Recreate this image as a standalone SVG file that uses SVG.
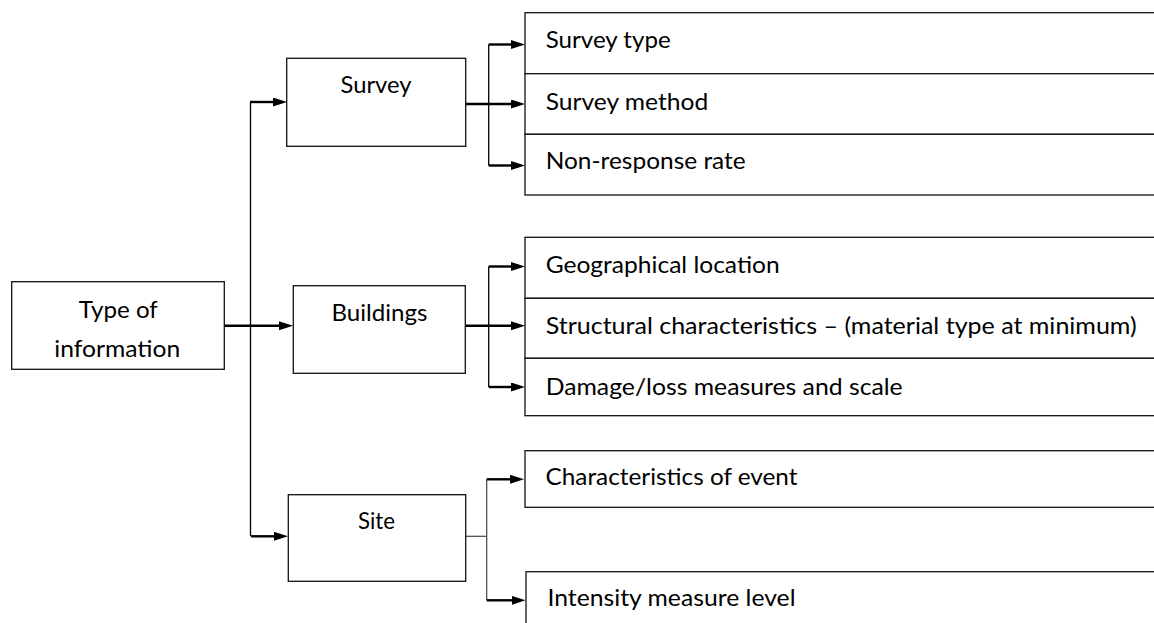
<svg xmlns="http://www.w3.org/2000/svg" width="1154" height="623" viewBox="0 0 1154 623">
  <style>
    .box { fill: #ffffff; stroke: #111111; stroke-width: 1.3; }
    .lbl { font-family: Lato, "Open Sans", "Liberation Sans", sans-serif; font-size: 23px; fill: #000000; }
    .mid { text-anchor: middle; }
    .thin { fill: none; stroke: #000000; stroke-width: 1.3; }
    .gray { fill: none; stroke: #444444; stroke-width: 1.2; }
    .arrow { fill: none; stroke: #000000; stroke-width: 2.4; marker-end: url(#head); }
  </style>
  <defs>
    <marker id="head" markerUnits="userSpaceOnUse" markerWidth="15" markerHeight="10" refX="2" refY="4.5" orient="auto">
      <path d="M0,0 L14,4.5 L0,9 Z" fill="#000000"/>
    </marker>
  </defs>

  <!-- connectors -->
  <g id="connectors">
    <!-- trunk from the root box -->
    <path class="thin" d="M250.5,102 V536.3"/>
    <path class="arrow" d="M250,102 H275"/>
    <path class="arrow" d="M251,536.3 H276"/>
    <path class="arrow" d="M224.5,325.7 H281"/>
    <!-- survey branch -->
    <path class="arrow" d="M466,104 H513"/>
    <path class="thin" d="M488.7,44.5 V165.5"/>
    <path class="arrow" d="M488.7,44.5 H513"/>
    <path class="arrow" d="M488.7,165.5 H513"/>
    <!-- buildings branch -->
    <path class="arrow" d="M466,325.7 H513"/>
    <path class="thin" d="M488.7,266.5 V387"/>
    <path class="arrow" d="M488.7,266.5 H513"/>
    <path class="arrow" d="M488.7,387 H513"/>
    <!-- site branch -->
    <path class="gray" d="M466,536.3 H486.7"/>
    <path class="gray" d="M486.7,479.3 V600.3"/>
    <path class="arrow" d="M486.7,479.3 H512"/>
    <path class="arrow" d="M486.7,600.3 H513.5"/>
  </g>

  <!-- root -->
  <g id="type-of-information">
    <rect class="box" x="11.7" y="281.7" width="212.6" height="87.6"/>
    <text class="lbl mid" x="118.3" y="318" textLength="79" lengthAdjust="spacingAndGlyphs">Type of</text>
    <text class="lbl mid" x="117.3" y="357" textLength="126" lengthAdjust="spacingAndGlyphs">information</text>
  </g>

  <!-- categories -->
  <g id="survey">
    <rect class="box" x="286.7" y="58.3" width="179" height="88"/>
    <text class="lbl mid" x="376" y="92.5" textLength="71" lengthAdjust="spacingAndGlyphs">Survey</text>
  </g>
  <g id="buildings">
    <rect class="box" x="293.3" y="285.7" width="172" height="87.6"/>
    <text class="lbl mid" x="379.5" y="320.7" textLength="96" lengthAdjust="spacingAndGlyphs">Buildings</text>
  </g>
  <g id="site">
    <rect class="box" x="288.3" y="494.7" width="177.4" height="86.6"/>
    <text class="lbl mid" x="376.5" y="529" textLength="37" lengthAdjust="spacingAndGlyphs">Site</text>
  </g>

  <!-- survey items -->
  <g id="survey-type">
    <rect class="box" x="525" y="12.7" width="660" height="61"/>
    <text class="lbl" x="545.7" y="48.3" textLength="125" lengthAdjust="spacingAndGlyphs">Survey type</text>
  </g>
  <g id="survey-method">
    <rect class="box" x="525" y="73.7" width="660" height="60.6"/>
    <text class="lbl" x="545.7" y="110" textLength="162.6" lengthAdjust="spacingAndGlyphs">Survey method</text>
  </g>
  <g id="non-response-rate">
    <rect class="box" x="525" y="134.3" width="660" height="60.7"/>
    <text class="lbl" x="545.7" y="169" textLength="200" lengthAdjust="spacingAndGlyphs">Non-response rate</text>
  </g>

  <!-- building items -->
  <g id="geographical-location">
    <rect class="box" x="525" y="237.3" width="660" height="61"/>
    <text class="lbl" x="545.7" y="273.3" textLength="234" lengthAdjust="spacingAndGlyphs">Geographical location</text>
  </g>
  <g id="structural-characteristics">
    <rect class="box" x="525" y="298.3" width="660" height="60"/>
    <text class="lbl" x="545.7" y="334" textLength="591" lengthAdjust="spacingAndGlyphs">Structural characteristics – (material type at minimum)</text>
  </g>
  <g id="damage-loss">
    <rect class="box" x="525" y="358.3" width="660" height="57.4"/>
    <text class="lbl" x="545.7" y="395" textLength="357" lengthAdjust="spacingAndGlyphs">Damage/loss measures and scale</text>
  </g>

  <!-- site items -->
  <g id="characteristics-of-event">
    <rect class="box" x="525" y="450.7" width="660" height="56.6"/>
    <text class="lbl" x="545.5" y="485" textLength="252" lengthAdjust="spacingAndGlyphs">Characteristics of event</text>
  </g>
  <g id="intensity-measure-level">
    <rect class="box" x="526" y="571.7" width="660" height="80"/>
    <text class="lbl" x="547.5" y="606" textLength="248" lengthAdjust="spacingAndGlyphs">Intensity measure level</text>
  </g>
</svg>
